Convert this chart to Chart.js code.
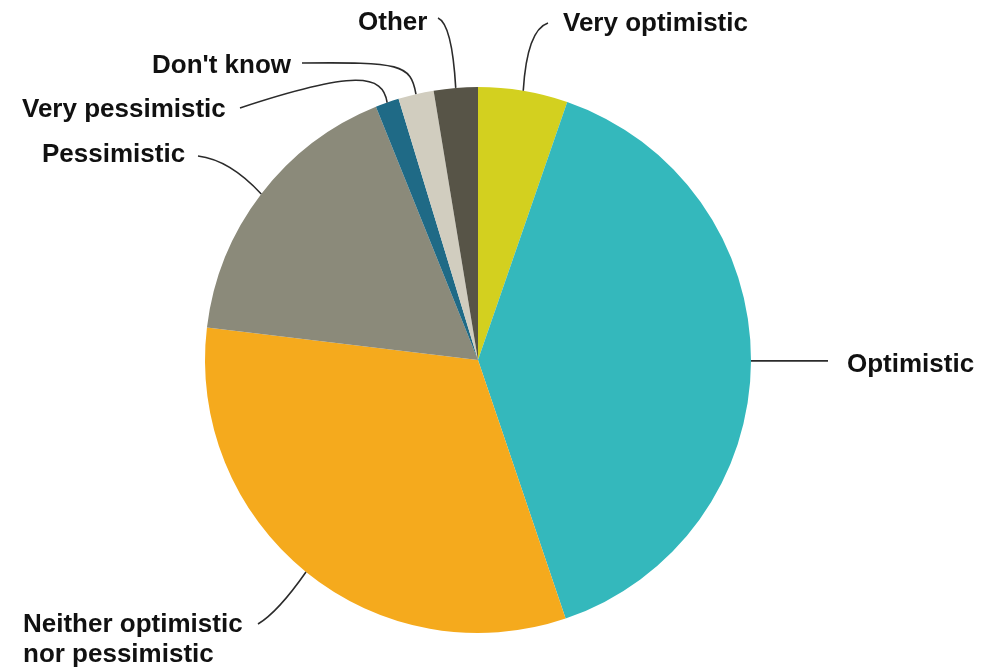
<!DOCTYPE html>
<html>
<head>
<meta charset="utf-8">
<script src="https://cdn.jsdelivr.net/npm/chart.js@4/dist/chart.umd.min.js"></script>
<style>
  html, body { margin: 0; padding: 0; background: #fff; }
  #chart { display: block; }
</style>
</head>
<body>
<canvas id="chart" width="991" height="668"></canvas>
<script>
// Survey answers, read clockwise from 12 o'clock
const categories = [
    ["Very optimistic"],
    ["Optimistic"],
    ["Neither optimistic", "nor pessimistic"],
    ["Pessimistic"],
    ["Very pessimistic"],
    ["Don't know"],
    ["Other"]
];
const shares = [5.3, 39.5, 32.1, 17.0, 1.4, 2.1, 2.6];
const sliceColors = ['#d3d01f', '#34b8bc', '#f5aa1d', '#8b8a7a', '#1f6a86', '#d1cdbf', '#575447'];

// Where each label sits and how its leader line bends (canvas px)
const labelLayout = [
    { text: [563, 31],  end: [548, 23],  c1: [527, 30] },
    { text: [847, 372], end: [828, 0],   flat: true },
    { text: [23, 632],  end: [258, 624], c1: [278, 612] },
    { text: [42, 162],  end: [198, 156], c1: [230, 160] },
    { text: [22, 117],  end: [240, 108], c1: [383, 74], c2: [355, 70] },
    { text: [152, 73],  end: [302, 63],  c1: [411, 64], c2: [400, 62] },
    { text: [358, 30],  end: [438, 18],  c1: [452, 24] }
];

const leaderLabels = {
    id: 'leaderLabels',
    afterDraw(chart) {
        const ctx = chart.ctx;
        const arcs = chart.getDatasetMeta(0).data;
        ctx.save();
        ctx.strokeStyle = '#2b2b2b';
        ctx.lineWidth = 1.6;
        ctx.fillStyle = '#111';
        ctx.font = 'bold 26px "Liberation Sans", Arial, sans-serif';
        ctx.textAlign = 'left';
        ctx.textBaseline = 'alphabetic';

        arcs.forEach((arc, i) => {
            const p = arc.getProps(['x', 'y', 'startAngle', 'endAngle', 'outerRadius'], true);
            const mid = (p.startAngle + p.endAngle) / 2;
            const sx = p.x + Math.cos(mid) * p.outerRadius;
            const sy = p.y + Math.sin(mid) * p.outerRadius;
            const lay = labelLayout[i];
            const ex = lay.end[0];
            const ey = lay.flat ? sy : lay.end[1];

            ctx.beginPath();
            ctx.moveTo(sx, sy);
            if (lay.c2) {
                ctx.bezierCurveTo(lay.c1[0], lay.c1[1], lay.c2[0], lay.c2[1], ex, ey);
            } else if (lay.c1) {
                ctx.quadraticCurveTo(lay.c1[0], lay.c1[1], ex, ey);
            } else {
                ctx.lineTo(ex, ey);
            }
            ctx.stroke();

            categories[i].forEach((line, j) => {
                ctx.fillText(line, lay.text[0], lay.text[1] + j * 30);
            });
        });
        ctx.restore();
    }
};

new Chart(document.getElementById('chart').getContext('2d'), {
    type: 'pie',
    data: {
        labels: categories.map(c => c.join(' ')),
        datasets: [{
            data: shares,
            backgroundColor: sliceColors,
            borderWidth: 0
        }]
    },
    options: {
        responsive: false,
        animation: false,
        layout: {
            padding: { top: 87, bottom: 35, left: 205, right: 240 }
        },
        plugins: {
            legend: { display: false },
            tooltip: { enabled: false }
        }
    },
    plugins: [leaderLabels]
});
</script>
</body>
</html>
